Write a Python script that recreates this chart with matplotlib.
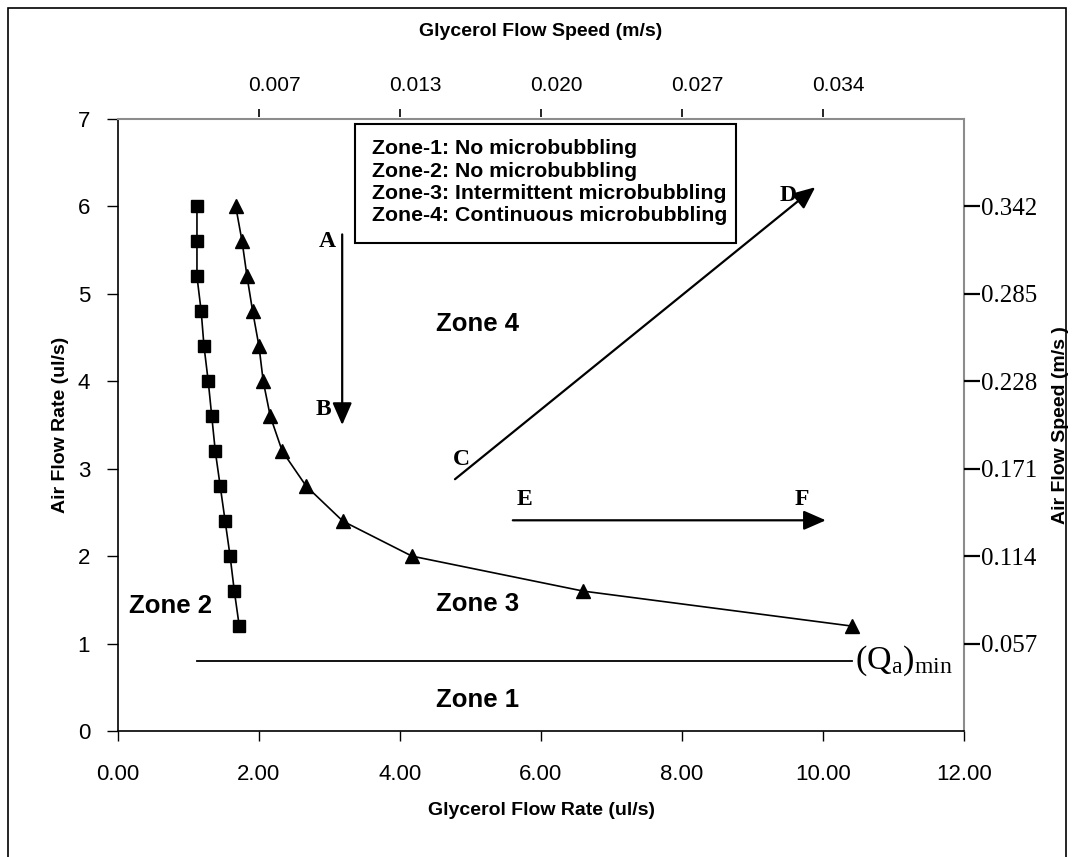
import matplotlib
matplotlib.use("Agg")
import matplotlib.pyplot as plt
from matplotlib.patches import Rectangle
from matplotlib.transforms import ScaledTranslation

plt.rcParams['font.family'] = ['Liberation Sans', 'DejaVu Sans']
plt.rcParams['mathtext.fontset'] = 'custom'
plt.rcParams['mathtext.rm'] = 'Liberation Serif'
plt.rcParams['mathtext.it'] = 'Liberation Serif:italic'
plt.rcParams['mathtext.bf'] = 'Liberation Serif:bold'

# ---- data ----
zone2_glycerol = [1.12, 1.12, 1.12, 1.18, 1.22, 1.28, 1.33, 1.38, 1.45, 1.52, 1.59, 1.65, 1.72]
zone2_air      = [6.0, 5.6, 5.2, 4.8, 4.4, 4.0, 3.6, 3.2, 2.8, 2.4, 2.0, 1.6, 1.2]
zone3_glycerol = [1.67, 1.76, 1.83, 1.91, 2.00, 2.06, 2.16, 2.33, 2.67, 3.19, 4.17, 6.60, 10.41]
zone3_air      = [6.0, 5.6, 5.2, 4.8, 4.4, 4.0, 3.6, 3.2, 2.8, 2.4, 2.0, 1.6, 1.2]
qa_min = 0.8

x_ticks = [0, 2, 4, 6, 8, 10, 12]
x_ticklabels = ["0.00", "2.00", "4.00", "6.00", "8.00", "10.00", "12.00"]
y_ticks = [0, 1, 2, 3, 4, 5, 6, 7]
top_ticks = [2, 4, 6, 8, 10]
top_ticklabels = ["0.007", "0.013", "0.020", "0.027", "0.034"]
right_ticks = [1, 2, 3, 4, 5, 6]
right_ticklabels = ["0.057", "0.114", "0.171", "0.228", "0.285", "0.342"]

legend_lines = ["Zone-1: No microbubbling",
                "Zone-2: No microbubbling",
                "Zone-3: Intermittent microbubbling",
                "Zone-4: Continuous microbubbling"]

# annotation anchors (data units)
arrow_AB = ((3.18, 5.68), (3.18, 3.5))
arrow_CD = ((4.78, 2.88), (9.89, 6.22))
arrow_EF = ((5.60, 2.41), (10.04, 2.41))
letters = {"A": (2.85, 5.6), "B": (2.8, 3.68), "C": (4.75, 3.1), "D": (9.38, 6.12),
           "E": (5.65, 2.65), "F": (9.6, 2.65)}
zones = {"Zone 4": (5.1, 4.65), "Zone 3": (5.1, 1.45), "Zone 2": (0.75, 1.43), "Zone 1": (5.1, 0.36)}

# ---- figure ----
fig = plt.figure(figsize=(10.75, 8.57), dpi=100)
ax = fig.add_axes([118/1075, 1-731/857, (964-118)/1075, (731-119)/857])

ax.plot(zone2_glycerol, zone2_air, color='k', lw=1.2, marker='s', markersize=8)
ax.plot(zone3_glycerol, zone3_air, color='k', lw=1.2, marker='^', markersize=9.5)
ax.plot([min(zone2_glycerol), max(zone3_glycerol)], [qa_min, qa_min], color='k', lw=1.3)
ax.text(max(zone3_glycerol) + 0.05, qa_min, r'$\mathrm{(Q_{a})_{min}}$', fontsize=24.5,
        va='center', ha='left')

ax.set_xlim(0, 12)
ax.set_ylim(0, 7)
ax.set_xticks(x_ticks, x_ticklabels)
ax.set_yticks(y_ticks)
ax.tick_params(axis='x', direction='out', length=7, width=1, labelsize=16, pad=17)
ax.tick_params(axis='y', direction='out', length=8, width=1, labelsize=16, pad=12)
for s in ['top', 'right']:
    ax.spines[s].set_color('#8c8c8c')
    ax.spines[s].set_linewidth(1.5)
for s in ['left', 'bottom']:
    ax.spines[s].set_color('k')
    ax.spines[s].set_linewidth(1.2)

ax.set_xlabel("Glycerol Flow Rate (ul/s)", fontsize=14, fontweight='bold', labelpad=12)
ax.set_ylabel("Air Flow Rate (ul/s)", fontsize=14, fontweight='bold', labelpad=6)

# top axis
axt = ax.twiny()
axt.set_xlim(ax.get_xlim())
axt.set_xticks(top_ticks, top_ticklabels)
for s in axt.spines.values():
    s.set_visible(False)
axt.spines['top'].set_position(('outward', 1.5))
axt.tick_params(axis='x', direction='out', length=5.5, width=1.2, labelsize=15, pad=10)
off = ScaledTranslation(15/100, 0, fig.dpi_scale_trans)
for lab in axt.get_xticklabels():
    lab.set_transform(lab.get_transform() + off)
axt.set_xlabel("Glycerol Flow Speed (m/s)", fontsize=14, fontweight='bold', labelpad=29)

# right axis
axr = ax.twinx()
axr.set_ylim(ax.get_ylim())
axr.set_yticks(right_ticks, right_ticklabels)
for s in axr.spines.values():
    s.set_visible(False)
axr.tick_params(axis='y', direction='out', length=11.5, width=1.6, labelsize=18, pad=0.5)
for lab in axr.get_yticklabels():
    lab.set_fontfamily('Liberation Serif')
axr.set_ylabel("Air Flow Speed (m/s )", fontsize=14, fontweight='bold', labelpad=11)

# arrows
for (start, tip) in [arrow_AB, arrow_CD, arrow_EF]:
    ax.annotate('', xy=tip, xytext=start,
                arrowprops=dict(arrowstyle='-|>,head_length=0.8,head_width=0.35', lw=1.6,
                                color='k', mutation_scale=17, shrinkA=0, shrinkB=0))
for k, (x, y) in letters.items():
    ax.text(x, y, k, fontsize=17, fontweight='bold', family='Liberation Serif',
            ha='left', va='center')
for k, (x, y) in zones.items():
    ax.text(x, y, k, fontsize=18.5, fontweight='bold', ha='center', va='center')

# legend box
ax.add_patch(Rectangle((355/1075, 1-243/857), (736-355)/1075, (243-124)/857,
                       transform=fig.transFigure, fill=True, facecolor='white',
                       edgecolor='k', lw=1.5, zorder=5))
for i, line in enumerate(legend_lines):
    fig.text(372/1075, 1-(149 + 22.3*i)/857, line, fontsize=15.3, fontweight='bold',
             ha='left', va='center', zorder=6)

# outer frame
fig.patches.append(Rectangle((8/1075, -0.02), (1066-8)/1075, 1.02-8/857,
                             transform=fig.transFigure, fill=False, edgecolor='k', lw=1.2))

fig.savefig("out.png", dpi=100)
